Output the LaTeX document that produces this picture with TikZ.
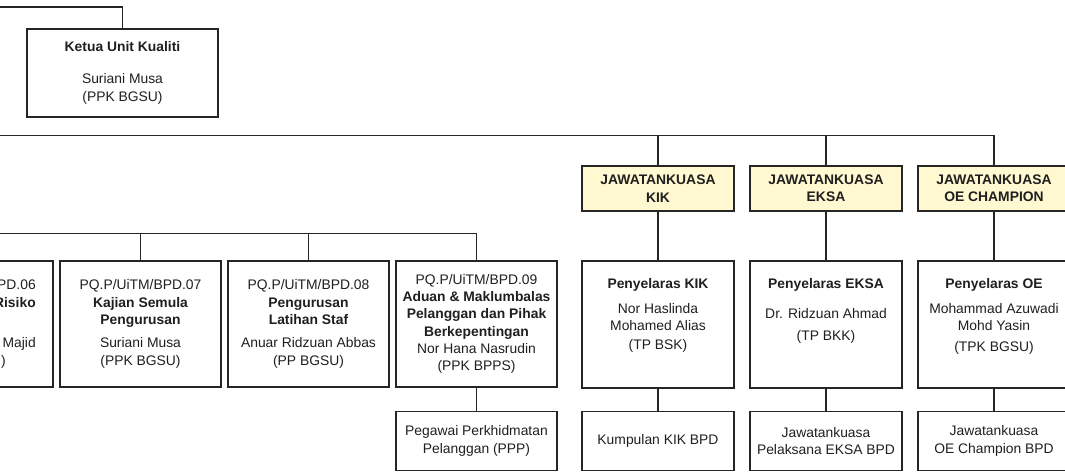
\documentclass[tikz,border=0pt]{standalone}
\usepackage{fontspec}
\setmainfont{Liberation Sans}
\usetikzlibrary{positioning}
\definecolor{jkyellow}{RGB}{255,248,208}

\begin{document}
\begin{tikzpicture}[x=0.75pt,y=-0.75pt]
    \tikzset{
      node distance=126pt,
      every node/.style={inner sep=0pt, text=black!88, align=center,
        font=\fontsize{10.4}{13}\selectfont},
      unit/.style={draw=black!85, line width=1.2pt,
        minimum width=120.75pt, minimum height=94.5pt},
      panel/.style={draw=black!85, line width=1.2pt,
        minimum width=114pt, minimum height=95.25pt},
      jk/.style={panel, fill=jkyellow, minimum height=33.75pt,
        font=\fontsize{10.4}{13}\selectfont\bfseries},
      team/.style={panel, minimum height=44.25pt},
      link/.style={draw=black!85, line width=1.2pt},
    }
    \clip (0,0) rectangle (1065,472);

    \node[unit, minimum width=143.25pt, minimum height=66pt] (ketua) at (122.5,73)
      {\textbf{Ketua Unit Kualiti}\\[11pt]Suriani Musa\\(PPK BGSU)};

    \node[unit] (bpd07) at (140.5,324)
      {PQ.P/UiTM/BPD.07\\\textbf{Kajian Semula}\\\textbf{Pengurusan}\\[4.5pt]Suriani Musa\\(PPK BGSU)};
    \node[unit, left of=bpd07] (bpd06) {};
    \node[anchor=east, align=right] (bpd06tx) at (36,324)
      {PD.06\\\textbf{Risiko}\\\mbox{}\\[4.5pt]Majid\hspace*{2.25pt}\\)\hspace*{22.5pt}};
    \node[unit, right of=bpd07] (bpd08)
      {PQ.P/UiTM/BPD.08\\\textbf{Pengurusan}\\\textbf{Latihan Staf}\\[4.5pt]Anuar Ridzuan Abbas\\(PP BGSU)};
    \node[unit, right of=bpd08] (bpd09)
      {PQ.P/UiTM/BPD.09\\\textbf{Aduan \& Maklumbalas}\\\textbf{Pelanggan dan Pihak}\\\textbf{Berkepentingan}\\Nor Hana Nasrudin\\(PPK BPPS)};
    \node[unit, minimum height=44.25pt, below of=bpd09, node distance=87.75pt] (ppp)
      {Pegawai Perkhidmatan\\Pelanggan (PPP)};

    \node[jk] (jkik) at (658,188.5) {JAWATANKUASA\\KIK};
    \node[jk, right of=jkik] (jeksa) {JAWATANKUASA\\EKSA};
    \node[jk, right of=jeksa] (joe) {JAWATANKUASA\\OE CHAMPION};

    \node[panel, below of=jkik, node distance=102pt] (pkik) {};
    \node[panel, below of=jeksa, node distance=102pt] (peksa) {};
    \node[panel, below of=joe, node distance=102pt] (poe) {};
    \node[below=13.5pt of pkik.north] (pkiktx)
      {\textbf{Penyelaras KIK}\\[5.75pt]Nor Haslinda\\Mohamed Alias\\[1.25pt](TP BSK)};
    \node[below=13.5pt of peksa.north] (peksatx)
      {\textbf{Penyelaras EKSA}\\[9.5pt]Dr. Ridzuan Ahmad\\[3.5pt](TP BKK)};
    \node[below=13.5pt of poe.north] (poetx)
      {\textbf{Penyelaras OE}\\[5.75pt]Mohammad Azuwadi\\Mohd Yasin\\[2.75pt](TPK BGSU)};

    \node[team, below of=pkik, node distance=87.4pt] (kkik) {Kumpulan KIK BPD};
    \node[team, below of=peksa, node distance=87.4pt] (keksa) {Jawatankuasa\\Pelaksana EKSA BPD};
    \node[team, below of=poe, node distance=87.4pt] (koe) {Jawatankuasa\\OE Champion BPD};

    \coordinate (topL) at (0,7);
    \coordinate (busA) at (0,135.5);
    \coordinate (busB) at (0,233.5);

    \draw[link] (topL) -| (ketua.north);
    \draw[link] (busA) -| (joe.north);
    \draw[link] (busB) -| (bpd09.north);
    \draw[link]
      (jkik) edge (jkik |- busA)
      (jeksa) edge (jeksa |- busA)
      (bpd06) edge (bpd06 |- busB)
      (bpd07) edge (bpd07 |- busB)
      (bpd08) edge (bpd08 |- busB)
      (bpd09) edge (ppp)
      (jkik) edge (pkik)
      (jeksa) edge (peksa)
      (joe) edge (poe)
      (pkik) edge (kkik)
      (peksa) edge (keksa)
      (poe) edge (koe);
  \end{tikzpicture}
\end{document}
